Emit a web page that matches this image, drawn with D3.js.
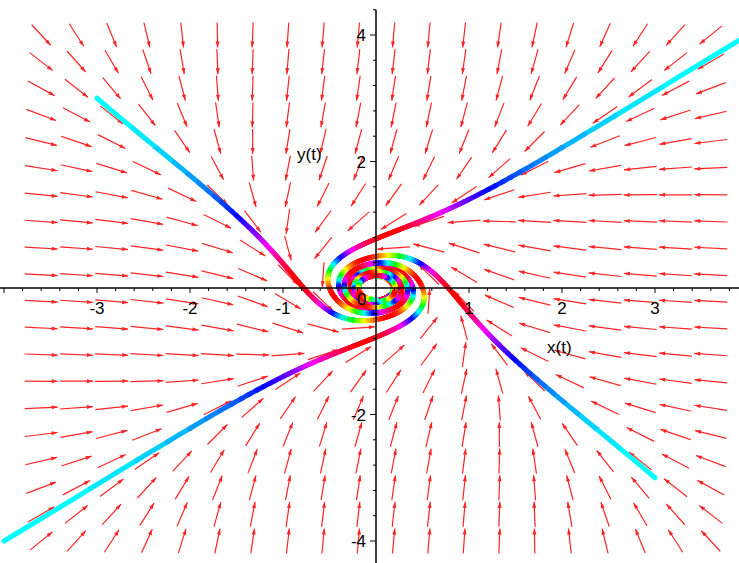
<!DOCTYPE html>
<html>
<head>
<meta charset="utf-8">
<script src="https://cdn.jsdelivr.net/npm/d3@7"></script>
<style>
  body { margin: 0; background: #fff; }
  svg { display: block; }
  text { font-family: "Liberation Sans", Arial, sans-serif; font-size: 17px; fill: #000; }
</style>
</head>
<body>
<svg id="chart" width="739" height="563"></svg>
<script>
// Phase portrait of  x' = -y - x^3 ,  y' = x - y^3
const rotationCoef = [-1, 1];      // x' gets -1*y, y' gets +1*x
const cubicCoef = [-1, -1];        // x' gets -x^3, y' gets -y^3
const initialX = [-3, 3, 4, -4];
const initialY = [3, -3, 4, -4];
const timeSpan = [0, 20];
const timeStep = 0.005;
const colorFreq = Math.PI / 2;     // line colour follows sin(colorFreq * t)
const fieldXRange = [-3.6, 3.6];
const fieldYRange = [-4, 4];
const fieldGrid = [20, 20];
const xTicksMajor = [-3, -2, -1, 1, 2, 3];
const yTicksMajor = [-4, -2, 2, 4];

const W = 739, H = 563;
const svg = d3.select("#chart");
const x = d3.scaleLinear().domain([-376 / 93, (W - 376) / 93]).range([0, W]);
const y = d3.scaleLinear().domain([-(H - 288) / 63.25, 288 / 63.25]).range([H, 0]);

function F(px, py) {
  return [rotationCoef[0] * py + cubicCoef[0] * px * px * px,
          rotationCoef[1] * px + cubicCoef[1] * py * py * py];
}

// ---- direction field ----
const nx = fieldGrid[0], ny = fieldGrid[1];
const dxData = (fieldXRange[1] - fieldXRange[0]) / (nx - 1);
const dyData = (fieldYRange[1] - fieldYRange[0]) / (ny - 1);
const cellPxX = Math.abs(x(dxData) - x(0));
const cellPxY = Math.abs(y(dyData) - y(0));
const arrows = [];
for (let i = 0; i < nx; i++) {
  for (let j = 0; j < ny; j++) {
    const gx = fieldXRange[0] + i * dxData;
    const gy = fieldYRange[0] + j * dyData;
    const v = F(gx, gy);
    const a = v[0] / dxData, b = v[1] / dyData;
    const n = Math.hypot(a, b) || 1;
    const hx = 0.47 * cellPxX * a / n;
    const hy = -0.47 * cellPxY * b / n;
    const cx = x(gx), cy = y(gy);
    arrows.push({ x1: cx - hx, y1: cy - hy, x2: cx + hx, y2: cy + hy });
  }
}
const gField = svg.append("g").attr("class", "field");
gField.selectAll("line").data(arrows).join("line")
  .attr("x1", d => d.x1).attr("y1", d => d.y1)
  .attr("x2", d => d.x2).attr("y2", d => d.y2)
  .attr("stroke", "#ff2424").attr("stroke-width", 1.2);
gField.selectAll("path").data(arrows).join("path")
  .attr("d", d => {
    const L = Math.hypot(d.x2 - d.x1, d.y2 - d.y1) || 1;
    const ux = (d.x2 - d.x1) / L, uy = (d.y2 - d.y1) / L;
    const bx = d.x2 - 6 * ux, by = d.y2 - 6 * uy;
    return `M${d.x2},${d.y2}L${bx - 2 * uy},${by + 2 * ux}L${bx + 2 * uy},${by - 2 * ux}Z`;
  })
  .attr("fill", "#ff2424");

// ---- trajectories (RK4) ----
function solve(x0, y0) {
  const pts = [{ t: timeSpan[0], x: x0, y: y0 }];
  let px = x0, py = y0, t = timeSpan[0];
  const h = timeStep;
  while (t < timeSpan[1] - 1e-9) {
    const k1 = F(px, py);
    const k2 = F(px + h / 2 * k1[0], py + h / 2 * k1[1]);
    const k3 = F(px + h / 2 * k2[0], py + h / 2 * k2[1]);
    const k4 = F(px + h * k3[0], py + h * k3[1]);
    px += h / 6 * (k1[0] + 2 * k2[0] + 2 * k3[0] + k4[0]);
    py += h / 6 * (k1[1] + 2 * k2[1] + 2 * k3[1] + k4[1]);
    t += h;
    pts.push({ t, x: px, y: py });
  }
  return pts;
}
const hueOf = t => d3.hsl(180 + 180 * Math.sin(colorFreq * t), 1, 0.5).toString();
const gTraj = svg.append("g").attr("class", "trajectories");
initialX.forEach((x0, k) => {
  const pts = solve(x0, initialY[k]);
  const segs = [];
  const stride = 4;
  for (let i = 0; i + stride < pts.length; i += stride) {
    segs.push(pts.slice(i, i + stride + 1));
  }
  gTraj.append("g").selectAll("path").data(segs).join("path")
    .attr("d", d3.line().x(p => x(p.x)).y(p => y(p.y)))
    .attr("fill", "none")
    .attr("stroke", d => hueOf(d[0].t))
    .attr("stroke-width", 5)
    .attr("stroke-linecap", "round");
});

// ---- axes ----
const gAxes = svg.append("g").attr("class", "axes");
gAxes.append("line").attr("x1", 0).attr("x2", W).attr("y1", y(0)).attr("y2", y(0))
  .attr("stroke", "#000").attr("stroke-width", 1.5);
gAxes.append("line").attr("x1", x(0)).attr("x2", x(0)).attr("y1", y(4.4)).attr("y2", H)
  .attr("stroke", "#000").attr("stroke-width", 1.5);

const xMinor = d3.range(-20, 20).map(k => k * 0.2).filter(v => x(v) >= 0 && x(v) <= W && Math.abs(v) > 1e-9);
gAxes.selectAll(".xt").data(xMinor).join("line").attr("class", "xt")
  .attr("x1", d => x(d)).attr("x2", d => x(d))
  .attr("y1", y(0)).attr("y2", d => y(0) + (Math.abs(d - Math.round(d)) < 1e-6 ? 5 : 3))
  .attr("stroke", "#000").attr("stroke-width", 1);
const yMinor = d3.range(-11, 12).map(k => k * 0.4).filter(v => Math.abs(v) > 1e-9 && v <= 4.41);
gAxes.selectAll(".yt").data(yMinor).join("line").attr("class", "yt")
  .attr("y1", d => y(d)).attr("y2", d => y(d))
  .attr("x1", x(0)).attr("x2", d => x(0) - (Math.abs(d / 2 - Math.round(d / 2)) < 1e-6 ? 6 : 3))
  .attr("stroke", "#000").attr("stroke-width", 1);

gAxes.selectAll(".xl").data(xTicksMajor).join("text").attr("class", "xl")
  .attr("x", d => x(d)).attr("y", y(0) + 26).attr("text-anchor", "middle")
  .text(d => d);
gAxes.append("text").attr("x", x(0) - 19).attr("y", y(0) + 17).text("0");
gAxes.selectAll(".yl").data(yTicksMajor).join("text").attr("class", "yl")
  .attr("x", x(0) - 10).attr("y", d => y(d) + 6).attr("text-anchor", "end")
  .text(d => d);
gAxes.append("text").attr("x", 547).attr("y", 353).text("x(t)");
gAxes.append("text").attr("x", 297).attr("y", 160).text("y(t)");
</script>
</body>
</html>
